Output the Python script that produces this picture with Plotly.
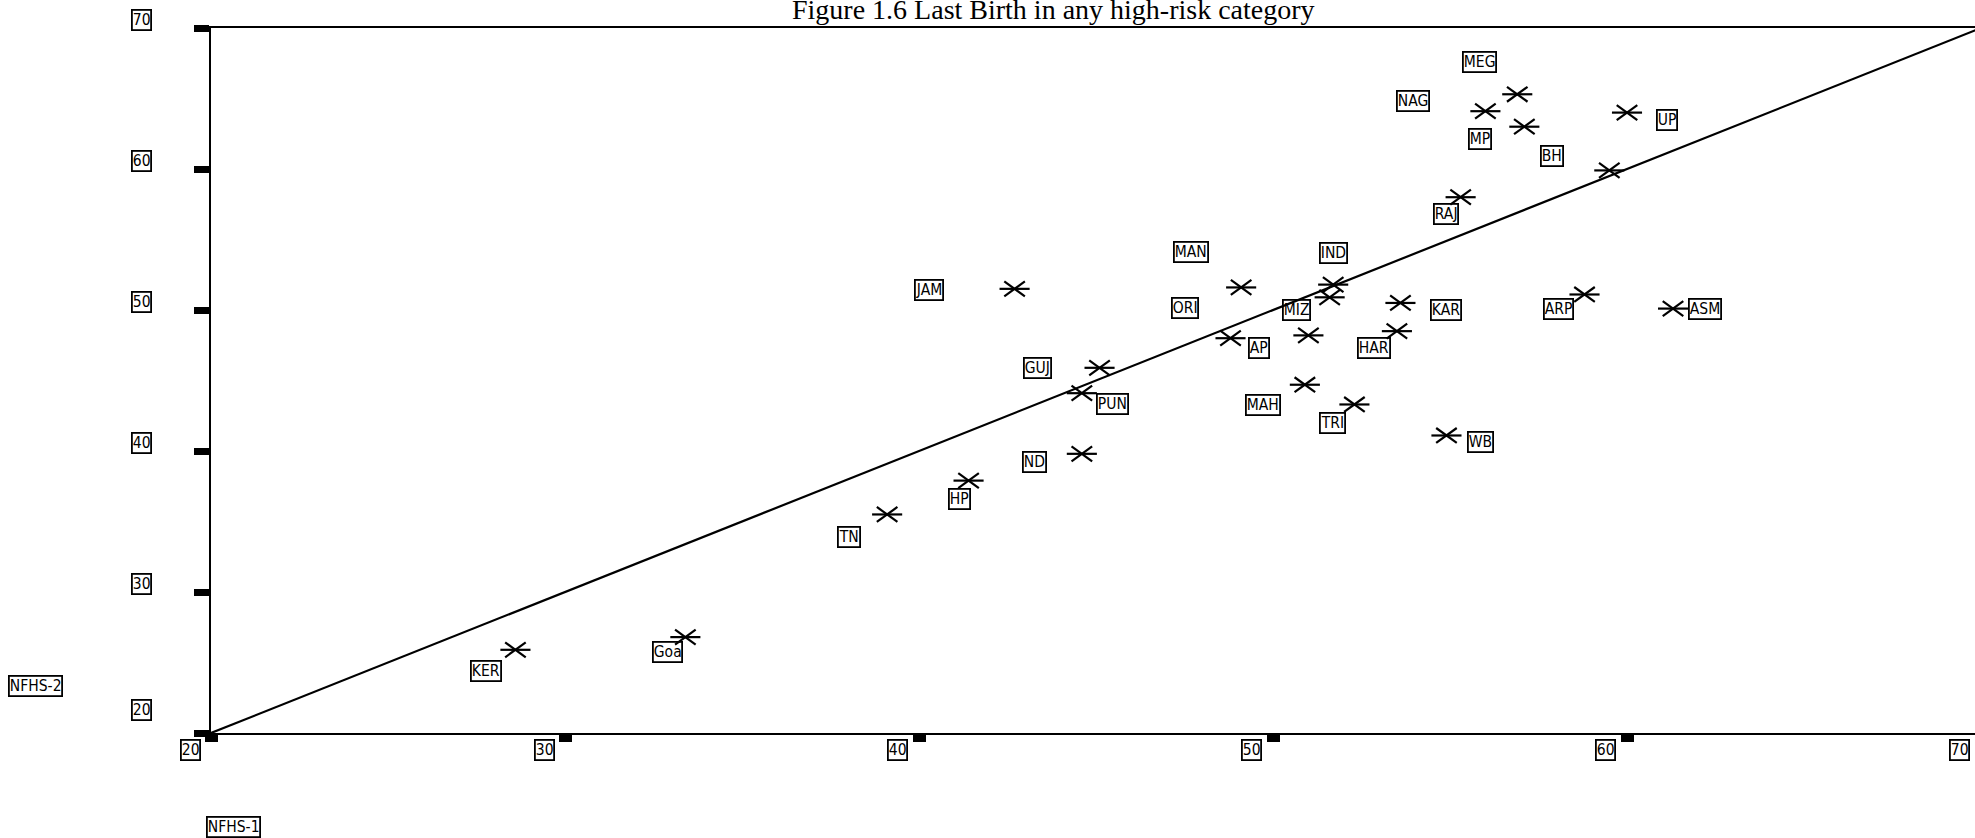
import plotly.graph_objects as go

# Percentage of last births in any high-risk category, NFHS-1 (x) vs NFHS-2 (y)
states = ["KER", "Goa", "TN", "HP", "ND", "PUN", "GUJ", "JAM", "ORI", "AP",
          "MAH", "MIZ", "IND", "MAN", "TRI", "KAR", "HAR", "WB", "ARP", "ASM",
          "RAJ", "BH", "UP", "NAG", "MEG", "MP"]
nfhs1 = [28.6, 33.4, 39.1, 41.4, 44.6, 44.6, 45.1, 42.7, 49.1, 48.8,
         50.9, 51.0, 51.7, 51.6, 52.3, 53.6, 53.5, 54.9, 58.8, 61.3,
         55.3, 59.5, 60.0, 56.0, 56.9, 57.1]
nfhs2 = [25.9, 26.8, 35.5, 37.9, 39.8, 44.1, 45.9, 51.5, 51.6, 48.0,
         44.7, 48.2, 51.8, 50.9, 43.3, 50.5, 48.5, 41.1, 51.1, 50.1,
         58.0, 59.9, 64.0, 64.1, 65.3, 63.0]

x_ticks = [20, 30, 40, 50, 60, 70]
y_ticks = [20, 30, 40, 50, 60, 70]
equality = [20, 70]          # NFHS-2 = NFHS-1 reference line

# ---- layout (pixels) ----
W, H = 1975, 838
L, T, B = 211, 28, 105
UNIT_X = 35.4                               # px per percentage point on x
x_range = [20, 20 + (W - L) / UNIT_X]       # right edge of the frame is cut by the page

# label placement around each marker: (dx, dy) in px, dy positive = downward
label_offset = {
    "KER": (-29, 21), "Goa": (-18, 15), "TN": (-38, 23), "HP": (-9, 18),
    "ND": (-47, 8), "PUN": (31, 11), "GUJ": (-62, 0), "JAM": (-86, 1),
    "ORI": (-56, 21), "AP": (28, 10), "MAH": (-42, 20), "MIZ": (-12, -25),
    "IND": (0, -32), "MAN": (-139, -45), "TRI": (-22, 19), "KAR": (46, 7),
    "HAR": (-23, 17), "WB": (34, 7), "ARP": (-26, 15), "ASM": (32, 0),
    "RAJ": (-15, 17), "BH": (-57, -14), "UP": (40, 7), "NAG": (-72, -10),
    "MEG": (-38, -32), "MP": (-44, 12),
}
y_label_lift = {20: 23}      # the lowest y label sits higher, clear of the x axis

BOX_FONT = dict(family="Liberation Sans Narrow, Arial Narrow, DejaVu Sans Condensed, Liberation Sans, sans-serif",
                size=15.5, color="black")


def boxed(text, **kw):
    return dict(text=text, showarrow=False, font=BOX_FONT,
                bordercolor="black", borderwidth=1.8, borderpad=0,
                xanchor="center", yanchor="middle", **kw)


fig = go.Figure()

fig.add_trace(go.Scatter(x=equality, y=equality, mode="lines",
                         line=dict(color="black", width=2.2),
                         hoverinfo="skip", showlegend=False))

# asterisk-like marker: a horizontal bar plus two flattened diagonals
star_parts = [("line-ew-open", 21.5, 0), ("line-ne-open", 18, 9), ("line-nw-open", 18, -9)]
for sym, size, ang in star_parts:
    fig.add_trace(go.Scatter(
        x=nfhs1, y=nfhs2, mode="markers", text=states,
        marker=dict(symbol=sym, size=size, angle=ang, color="black",
                    line=dict(color="black", width=2.2)),
        hovertemplate="%{text}: %{x}, %{y}<extra></extra>", showlegend=False))

annotations = []
for s, xv, yv in zip(states, nfhs1, nfhs2):
    dx, dy = label_offset[s]
    annotations.append(boxed(s, x=xv, y=yv, xref="x", yref="y", xshift=dx, yshift=-dy))

span = x_range[1] - x_range[0]
for v in x_ticks:
    annotations.append(boxed(str(v), x=(v - x_range[0]) / span, y=0,
                             xref="paper", yref="paper", xshift=-21, yshift=-16.5))
for v in y_ticks:
    annotations.append(boxed(str(v), x=0, y=v, xref="paper", yref="y",
                             xshift=-70, yshift=y_label_lift.get(v, 8)))

annotations.append(boxed("NFHS-2", x=0, y=0, xref="paper", yref="paper",
                         xshift=-175.5, yshift=47.3))
annotations.append(boxed("NFHS-1", x=0, y=0, xref="paper", yref="paper",
                         xshift=22.7, yshift=-93.8))

annotations.append(dict(text="Figure 1.6 Last Birth in any high-risk category",
                        showarrow=False, xref="paper", yref="paper",
                        x=(1053 - L) / (W - L), y=1, yshift=18.5,
                        xanchor="center", yanchor="middle",
                        font=dict(family="Liberation Serif, Times New Roman, serif",
                                  size=28, color="black")))

fig.update_layout(
    width=W, height=H,
    margin=dict(l=L, r=0, t=T, b=B, pad=0),
    paper_bgcolor="white", plot_bgcolor="white",
    showlegend=False,
    annotations=annotations,
    xaxis=dict(range=x_range, tickvals=x_ticks, showticklabels=False,
               ticks="outside", ticklen=7, tickwidth=13, tickcolor="black",
               showline=True, linecolor="black", linewidth=2, mirror=True,
               showgrid=False, zeroline=False, fixedrange=True),
    yaxis=dict(range=[20, 70], tickvals=y_ticks, showticklabels=False,
               ticks="outside", ticklen=15, tickwidth=7, tickcolor="black",
               showline=True, linecolor="black", linewidth=2, mirror=False,
               showgrid=False, zeroline=False, fixedrange=True),
)

fig.write_html("out.html")
